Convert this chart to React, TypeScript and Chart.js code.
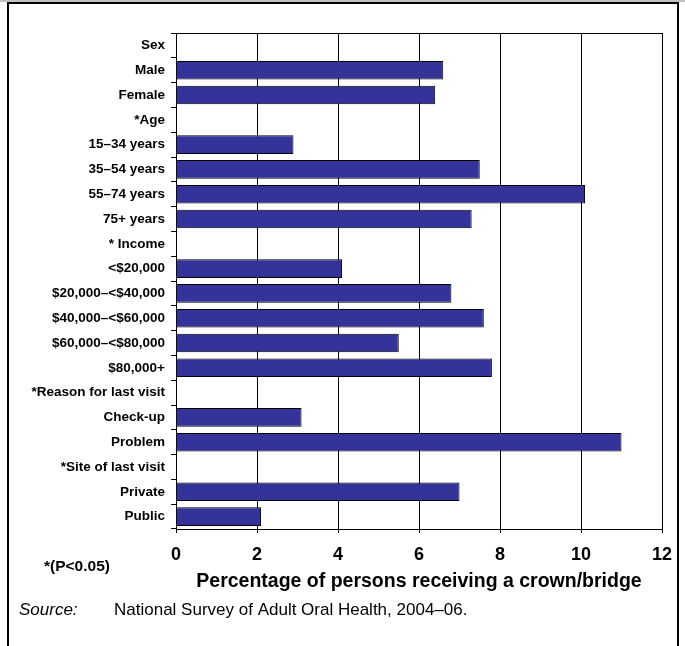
import React, { useEffect, useRef } from "react";
import { Chart, registerables } from "chart.js";

Chart.register(...registerables);

const categories: string[] = [
  "Sex",
  "Male",
  "Female",
  "*Age",
  "15–34 years",
  "35–54 years",
  "55–74 years",
  "75+ years",
  "* Income",
  "<$20,000",
  "$20,000–<$40,000",
  "$40,000–<$60,000",
  "$60,000–<$80,000",
  "$80,000+",
  "*Reason for last visit",
  "Check-up",
  "Problem",
  "*Site of last visit",
  "Private",
  "Public",
];

const values: (number | null)[] = [
  null, 6.6, 6.4,
  null, 2.9, 7.5, 10.1, 7.3,
  null, 4.1, 6.8, 7.6, 5.5, 7.8,
  null, 3.1, 11.0,
  null, 7.0, 2.1,
];

const xMin = 0;
const xMax = 12;
const xStep = 2;

const xTitle = "Percentage of persons receiving a crown/bridge";
const footnote = "*(P<0.05)";
const sourceLabel = "Source:";
const sourceText = "National Survey of Adult Oral Health, 2004–06.";

const FONT = "'Liberation Sans', Arial, Helvetica, sans-serif";

const framePlugin = {
  id: "frame",
  beforeDraw(chart: any) {
    const ctx = chart.ctx;
    ctx.save();
    ctx.fillStyle = "#ffffff";
    ctx.fillRect(0, 0, chart.width, chart.height);
    ctx.restore();
  },
  afterDraw(chart: any) {
    const ctx = chart.ctx;
    const ca = chart.chartArea;
    ctx.save();
    // plot top border
    ctx.strokeStyle = "#000000";
    ctx.lineWidth = 1;
    ctx.beginPath();
    ctx.moveTo(ca.left, Math.round(ca.top) + 0.5);
    ctx.lineTo(ca.right, Math.round(ca.top) + 0.5);
    ctx.stroke();
    // outer frame
    ctx.fillStyle = "#c0c0c0";
    ctx.fillRect(0, 0, chart.width, 2);
    ctx.fillStyle = "#000000";
    ctx.fillRect(7, 2, 672, 2);
    ctx.fillRect(7, 2, 2, chart.height);
    ctx.fillRect(677, 2, 2, chart.height);
    // footnote
    ctx.fillStyle = "#000000";
    ctx.textBaseline = "middle";
    ctx.textAlign = "left";
    ctx.font = `bold 15.5px ${FONT}`;
    ctx.fillText(footnote, 44, 567);
    // source
    ctx.font = `italic 17px ${FONT}`;
    ctx.fillText(sourceLabel, 19, 610);
    ctx.font = `17px ${FONT}`;
    ctx.fillText(sourceText, 114, 610);
    ctx.restore();
  },
};

export default function App() {
  const canvasRef = useRef<HTMLCanvasElement | null>(null);

  useEffect(() => {
    if (!canvasRef.current) return;
    const chart = new Chart(canvasRef.current, {
      type: "bar",
      data: {
        labels: categories,
        datasets: [
          {
            data: values as any,
            backgroundColor: "#333399",
            borderColor: "#000000",
            borderWidth: 1,
            barPercentage: 0.75,
            categoryPercentage: 1,
          },
        ],
      },
      options: {
        indexAxis: "y",
        animation: false,
        responsive: false,
        maintainAspectRatio: false,
        layout: { padding: { top: 33, right: 23, left: 0, bottom: 0 } },
        plugins: {
          legend: { display: false },
          tooltip: { enabled: false },
          title: { display: false },
        },
        scales: {
          x: {
            type: "linear",
            position: "bottom",
            min: xMin,
            max: xMax,
            ticks: {
              stepSize: xStep,
              color: "#000000",
              font: { family: FONT, size: 18, weight: "bold" },
              padding: 11,
            },
            grid: {
              color: "#000000",
              lineWidth: 1,
              drawTicks: true,
              tickLength: 4,
              tickColor: "#000000",
            },
            border: { color: "#000000", width: 1 },
            title: {
              display: true,
              text: xTitle,
              color: "#000000",
              font: { family: FONT, size: 19.5, weight: "bold" },
              padding: { top: 0, bottom: 53 },
            },
            afterFit(scale: any) {
              scale.height = 117;
            },
          },
          y: {
            type: "category",
            offset: true,
            ticks: {
              color: "#000000",
              font: { family: FONT, size: 13.5, weight: "bold" },
              padding: 6,
              autoSkip: false,
            },
            grid: {
              offset: true,
              drawOnChartArea: false,
              drawTicks: true,
              tickLength: 5,
              tickColor: "#000000",
              color: "#000000",
            },
            border: { color: "#000000", width: 1 },
            afterFit(scale: any) {
              scale.width = 176;
            },
          },
        },
      },
      plugins: [framePlugin],
    });
    return () => chart.destroy();
  }, []);

  return (
    <div style={{ position: "absolute", left: 0, top: 0, width: 685, height: 646 }}>
      <canvas ref={canvasRef} width={685} height={646} style={{ display: "block" }} />
    </div>
  );
}
